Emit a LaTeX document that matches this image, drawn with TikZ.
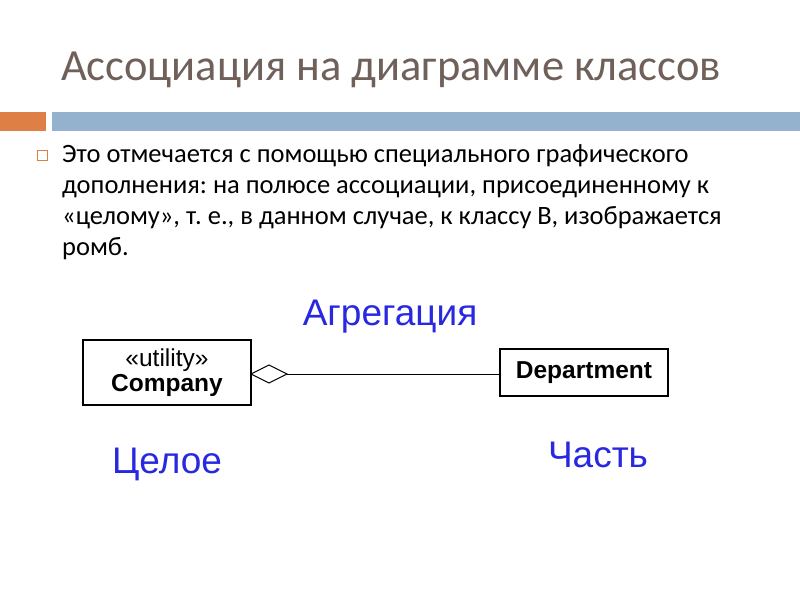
\documentclass[tikz,border=0pt]{standalone}
\usepackage{fontspec}
\setmainfont{Carlito}
\newfontfamily\arialf{Liberation Sans}
\definecolor{titlec}{RGB}{112,96,90}
\definecolor{orng}{RGB}{222,128,70}
\definecolor{blubar}{RGB}{148,178,206}
\definecolor{lblue}{RGB}{40,40,225}
\frenchspacing
\begin{document}
\begin{tikzpicture}[x=1pt,y=-1pt,
  cls/.style={draw,line width=2pt,inner sep=0pt,font=\arialf\bfseries\fontsize{24.5}{27}\selectfont,align=center},
  lbl/.style={text=lblue,font=\arialf\fontsize{37}{40}\selectfont,inner sep=0pt}]
\useasboundingbox[fill=white] (0,0) rectangle (800,600);
\node[anchor=west,text=titlec,font=\fontsize{44.5}{48}\selectfont,inner sep=0pt] (title) at (61,70) {Ассоциация на диаграмме классов};
\fill[orng] (0,112) rectangle (46,131);
\fill[blubar] (52,112) rectangle (800,131);
\draw[orng,line width=1pt] (37.5,150) rectangle (47.5,160);
\node[anchor=north west,inner sep=0pt,align=left,font=\fontsize{26.5}{31}\selectfont] (body) at (62,144) {Это отмечается с помощью специального графического\\дополнения: на полюсе ассоциации, присоединенному к\\«целому», т.~е., в данном случае, к классу B, изображается\\ромб.};
\node[cls,minimum width=168,minimum height=65] (comp) at (167,372.5) {\mdseries«utility»\\[-2pt]Company};
\node[cls,minimum width=168,minimum height=47] (dept) at (584,372.5) {Department};
\coordinate (dtip) at (251,374);
\draw[line width=1pt] (dtip) -- ++(18,-9) -- ++(18,9) coordinate (dend) -- ++(-18,9) -- cycle;
\draw[line width=1pt] (dend) -- (dept.west |- dend);
\node[lbl] (agg) at (390,317) {Агрегация};
\node[lbl] (whole) at (167,464) {Целое};
\node[lbl] (part) at (598,455) {Часть};
\end{tikzpicture}
\end{document}
